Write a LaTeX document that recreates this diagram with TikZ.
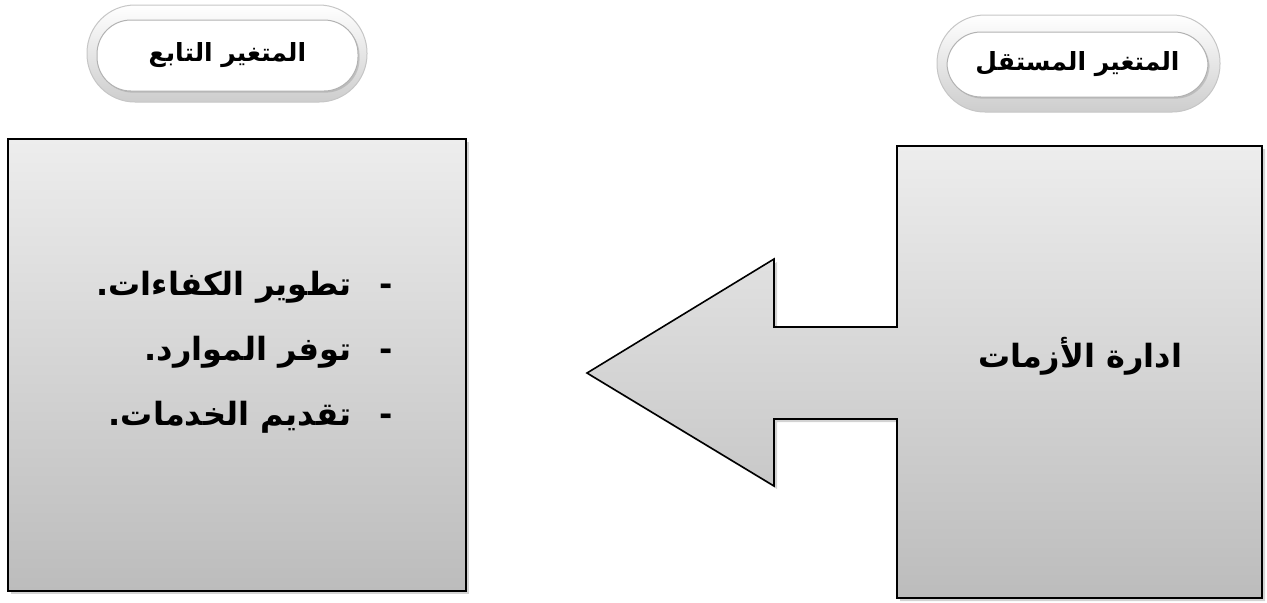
\documentclass[tikz,border=0pt]{standalone}
\usepackage{fontspec}
\newfontfamily\arabicfont[Script=Arabic]{DejaVu Sans}
\TeXXeTstate=1
\usetikzlibrary{shadows}

\definecolor{boxtop}{RGB}{237,237,237}
\definecolor{boxbot}{RGB}{188,188,188}
\definecolor{rimedge}{RGB}{205,205,205}

\begin{document}
\begin{tikzpicture}[x=0.5pt,y=-0.5pt,line width=0.8pt,
  shade box/.style={top color=boxtop,bottom color=boxbot,draw=black,
    drop shadow={shadow xshift=1.5pt,shadow yshift=-1.5pt,opacity=0.35}},
  pill rim/.style={rounded corners=24pt,top color=white,bottom color=rimedge,
    draw=gray!45,line width=0.5pt,inner sep=0pt},
  pill face/.style={rounded corners=17pt,fill=white,draw=gray!60,line width=0.5pt,
    drop shadow={shadow xshift=0.8pt,shadow yshift=-0.8pt,opacity=0.3},
    font=\arabicfont\bfseries\fontsize{12.5pt}{15pt}\selectfont},
  big text/.style={font=\arabicfont\bfseries\fontsize{16pt}{32.5pt}\selectfont}]
  \useasboundingbox (0,0) rectangle (1267,602);
  % العناوين
  \node[pill rim,minimum width=140pt,minimum height=48.5pt] (deprim) at (227,53.5) {};
  \node[pill face,minimum width=130.5pt,minimum height=35.5pt] (depname) at (227.5,55.5)
    {\beginR المتغير التابع\endR};
  \node[pill rim,minimum width=141.5pt,minimum height=48.5pt] (indrim) at (1078.5,63.5) {};
  \node[pill face,minimum width=130.5pt,minimum height=32.5pt] (indname) at (1077.5,64.5)
    {\beginR المتغير المستقل\endR};
  % المربع الايسر
  \node[shade box,minimum width=229pt,minimum height=226pt] (dep) at (237,365) {};
  \node[big text,align=right,anchor=east] (deplist) at (400,352)
    {\beginR-\hspace{14pt}تطوير الكفاءات.\endR\\
     \beginR-\hspace{14pt}توفر الموارد.\endR\\
     \beginR-\hspace{14pt}تقديم الخدمات.\endR};
  % المربع الايمن مع السهم
  \path[shade box] (897,146) -- (1262,146) -- (1262,598) -- (897,598) -- (897,419)
    -- (774,419) -- (774,486) -- (587,373) -- (774,259) -- (774,327) -- (897,327) -- cycle;
  \node[big text] (ind) at (1080,356) {\beginR ادارة الأزمات\endR};
\end{tikzpicture}
\end{document}
